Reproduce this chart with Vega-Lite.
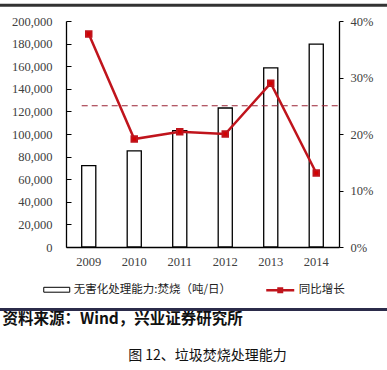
{
  "$schema": "https://vega.github.io/schema/vega-lite/v6.json",
  "autosize": {"type": "none"},
  "padding": {"left": 66, "top": 21, "right": 48, "bottom": 123},
  "width": 273,
  "height": 226,
  "background": "white",
  "title": {"text": "图 12、垃圾焚烧处理能力", "orient": "bottom", "anchor": "middle", "frame": "group", "fontSize": 14, "font": "Noto Sans CJK SC", "fontWeight": "normal", "color": "#111111", "offset": 22, "dx": 5},
  "data": {"values": [
    {"year": "2009", "capacity": 72000, "growth": 0.377},
    {"year": "2010", "capacity": 85000, "growth": 0.191},
    {"year": "2011", "capacity": 103000, "growth": 0.204},
    {"year": "2012", "capacity": 123000, "growth": 0.200},
    {"year": "2013", "capacity": 158500, "growth": 0.290},
    {"year": "2014", "capacity": 179500, "growth": 0.131}
  ]},
  "layer": [
    {
      "mark": {"type": "bar", "stroke": "black", "strokeWidth": 1.3},
      "encoding": {
        "x": {"field": "year", "type": "nominal", "scale": {"type": "band", "paddingInner": 0.69, "paddingOuter": 0.345},
          "axis": {"title": "资料来源：Wind，兴业证券研究所", "titleFont": "Noto Sans CJK SC", "titleFontSize": 15.5, "titleFontWeight": "bold", "titleColor": "#111111", "titleX": -64, "titleY": 71, "titleAlign": "left", "titleAnchor": "start", "titleBaseline": "middle", "labelAngle": 0, "ticks": false, "labelPadding": 8, "domainColor": "black", "domainWidth": 1.3, "labelFont": "Liberation Serif", "labelFontSize": 12.5, "labelColor": "#404040"}},
        "y": {"field": "capacity", "type": "quantitative", "scale": {"domain": [0, 200000], "nice": false},
          "axis": {"orient": "left", "title": null, "values": [0, 20000, 40000, 60000, 80000, 100000, 120000, 140000, 160000, 180000, 200000], "format": ",.0f", "labelOverlap": false, "grid": false, "tickSize": -5, "labelPadding": 19, "tickColor": "black", "domainColor": "black", "domainWidth": 1.3, "labelFont": "Liberation Serif", "labelFontSize": 12.5, "labelColor": "#404040"}},
        "fill": {"datum": "无害化处理能力:焚烧（吨/日）", "type": "nominal", "scale": {"range": ["white"]},
          "legend": {"orient": "none", "legendX": -20.25, "legendY": 257.75, "title": null, "symbolType": "M-1.268,-0.239H1.268V0.239H-1.268Z", "symbolSize": 420, "symbolStrokeColor": "black", "symbolStrokeWidth": 1, "labelOffset": 6, "labelFont": "Noto Sans CJK SC", "labelFontSize": 11.5, "labelColor": "#222222", "labelLimit": 300, "padding": 0}}
      }
    },
    {
      "layer": [
        {
          "mark": {"type": "line", "strokeWidth": 2.5, "point": {"shape": "square", "filled": true, "fill": "#d40000", "size": 30}},
          "encoding": {
            "x": {"field": "year", "type": "nominal", "scale": {"type": "band", "paddingInner": 0.69, "paddingOuter": 0.345}, "axis": null},
            "y": {"field": "growth", "type": "quantitative", "scale": {"domain": [0, 0.4], "nice": false},
              "axis": {"orient": "right", "title": null, "values": [0, 0.05, 0.1, 0.15, 0.2, 0.25, 0.3, 0.35, 0.4], "format": ".0%", "labelOverlap": false, "grid": false, "tickSize": 4, "labelPadding": 7, "tickColor": "black", "domainColor": "black", "domainWidth": 1.3, "labelFont": "Liberation Serif", "labelFontSize": 12.5, "labelColor": "#404040"}},
            "stroke": {"datum": "同比增长", "type": "nominal", "scale": {"range": ["#c0141c"]},
              "legend": {"orient": "none", "legendX": 202.75, "legendY": 257.75, "title": null, "symbolType": "M-1.366,0H1.366M-0.17,-0.17H0.17V0.17H-0.17Z", "symbolSize": 420, "symbolStrokeWidth": 2.5, "symbolFillColor": "#d40000", "labelOffset": 7, "labelFont": "Noto Sans CJK SC", "labelFontSize": 11.5, "labelColor": "#222222", "labelLimit": 300, "padding": 0,
                "encode": {"symbols": {"update": {"fill": {"value": "#d40000"}, "stroke": {"value": "#c0141c"}}}}}}
          }
        },
        {
          "data": {"values": [{"year": "2009", "avg": 0.25}]},
          "mark": {"type": "rule", "color": "#9b2335", "strokeDash": [6, 4], "strokeWidth": 1.2},
          "encoding": {
            "x": {"field": "year", "type": "nominal", "bandPosition": 0},
            "x2": {"value": "width"},
            "y": {"field": "avg", "type": "quantitative"}
          }
        }
      ]
    },
    {
      "layer": [
        {
          "data": {"values": [{"pos": 0, "lvl": 1.07}, {"pos": 1, "lvl": 1.07}]},
          "mark": {"type": "line", "color": "#333333", "strokeWidth": 3},
          "encoding": {
            "x": {"field": "pos", "type": "quantitative", "scale": {"domain": [0.17054, 0.87597], "nice": false, "zero": false}, "axis": null},
            "y": {"field": "lvl", "type": "quantitative", "scale": {"domain": [0, 1], "nice": false, "zero": false}, "axis": null}
          }
        },
        {
          "data": {"values": [{"pos": 0, "lvl": -0.2765}, {"pos": 1, "lvl": -0.2765}]},
          "mark": {"type": "line", "color": "#2b2b4a", "strokeWidth": 3},
          "encoding": {
            "x": {"field": "pos", "type": "quantitative"},
            "y": {"field": "lvl", "type": "quantitative"}
          }
        }
      ]
    }
  ],
  "resolve": {"scale": {"x": "independent", "y": "independent"}},
  "config": {"view": {"stroke": null}, "font": "Liberation Serif"}
}
